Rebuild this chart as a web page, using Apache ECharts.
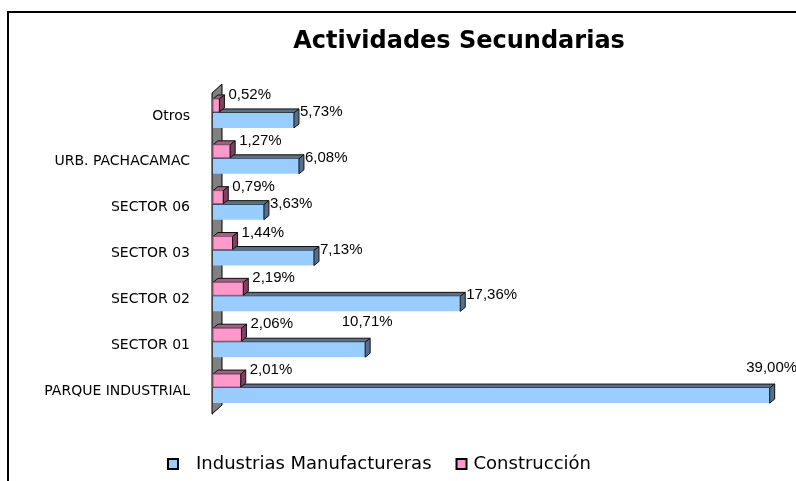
<!DOCTYPE html>
<html>
<head>
<meta charset="utf-8">
<script src="https://cdn.jsdelivr.net/npm/echarts@6/dist/echarts.min.js"></script>
<style>
  html, body { margin: 0; padding: 0; background: #fff; }
  .frame { position: relative; width: 796px; height: 481px; overflow: hidden; }
  .frame::before {
    content: ""; position: absolute; left: 7px; top: 11px; right: -10px; bottom: -10px;
    border-top: 2px solid #000; border-left: 2px solid #000;
  }
  #chart { position: absolute; left: 0; top: 0; width: 796px; height: 481px; }
</style>
</head>
<body>
<div class="frame"><div id="chart"></div></div>
<script>
  // bottom to top, as on the axis
  const categories = ["PARQUE INDUSTRIAL", "SECTOR 01", "SECTOR 02", "SECTOR 03", "SECTOR 06", "URB. PACHACAMAC", "Otros"];
  const manufactureras = [39.0, 10.71, 17.36, 7.13, 3.63, 6.08, 5.73];
  const construccion = [2.01, 2.06, 2.19, 1.44, 0.79, 1.27, 0.52];
  const seriesNames = ["Industrias Manufactureras", "Construcción"];

  // labels excel pushed above the bar end
  const blueLabelAbove = [true, true, false, false, false, false, false];

  const DX = 5, DY = -4;
  const fmt = (v) => v.toFixed(2).replace(".", ",") + "%";

  function bar3d(opt) {
    return function (params, api) {
      const val = api.value(0), cat = api.value(1);
      const p0 = api.coord([0, cat]);
      const p1 = api.coord([val, cat]);
      const c = p0[1];
      const x0 = p0[0] + 1, x1 = p1[0];
      const yt = c + opt.top, yb = c + opt.top + opt.h;
      const children = [];
      if (opt.wall && params.dataIndex === 0) {
        const cs = params.coordSys;
        const fx = cs.x, t = cs.y, b = cs.y + cs.height;
        children.push({
          type: "polygon",
          shape: { points: [[fx, t], [fx + 10, t - 9], [fx + 10, b - 9], [fx, b]] },
          style: { fill: "#808080", stroke: "#000", lineWidth: 1 },
        });
      }
      children.push({
        type: "polygon",
        shape: { points: [[x0, yt], [x1, yt], [x1 + DX, yt + DY], [x0 + DX, yt + DY]] },
        style: { fill: opt.topColor, stroke: "#111", lineWidth: 1 },
      });
      children.push({
        type: "rect",
        shape: { x: x0, y: yt, width: Math.max(x1 - x0, 0), height: opt.h },
        style: { fill: opt.color, stroke: opt.stroke, lineWidth: opt.stroke ? 1 : 0 },
      });
      children.push({
        type: "polygon",
        shape: { points: [[x1, yt], [x1, yb], [x1 + DX, yb + DY], [x1 + DX, yt + DY]] },
        style: { fill: opt.sideColor, stroke: "#111", lineWidth: 1 },
      });
      let lx, ly, align;
      if (opt.above && opt.above[params.dataIndex]) {
        lx = x1 + 2; ly = yt - 20; align = "center";
      } else {
        lx = x1 + opt.lx; ly = yt + opt.ly; align = "left";
      }
      children.push({
        type: "text",
        style: {
          x: lx, y: ly, text: fmt(val), align: align, verticalAlign: "middle",
          fill: "#000", fontSize: 15, fontFamily: "Liberation Sans, Arial, sans-serif",
        },
      });
      return { type: "group", children: children };
    };
  }

  const chart = echarts.init(document.getElementById("chart"));
  const option = {
    backgroundColor: "transparent",
    animation: false,
    title: {
      text: "Actividades Secundarias",
      left: 454,
      textAlign: "center",
      top: 25,
      textStyle: { fontFamily: "DejaVu Sans", fontWeight: "bold", fontSize: 24, color: "#000" },
    },
    legend: {
      left: 162,
      top: 450,
      itemWidth: 10,
      itemHeight: 10,
      itemGap: 24,
      icon: "rect",
      textStyle: { fontFamily: "DejaVu Sans", fontSize: 18, color: "#000" },
      data: [
        { name: seriesNames[0], textStyle: { padding: [0, 0, 0, 13] } },
        { name: seriesNames[1], textStyle: { padding: [0, 0, 0, 2] } },
      ],
    },
    grid: { left: 212, top: 93, width: 572, height: 321 },
    xAxis: { type: "value", min: 0, max: 40, show: false },
    yAxis: {
      type: "category",
      data: categories,
      axisLine: { lineStyle: { color: "#000", width: 1 } },
      axisTick: { length: 6, lineStyle: { color: "#000" } },
      axisLabel: { margin: 22, color: "#000", fontFamily: "DejaVu Sans", fontSize: 14 },
    },
    series: [
      {
        name: seriesNames[0],
        type: "custom",
        itemStyle: { color: "#99CCFF", borderColor: "#000", borderWidth: 1 },
        encode: { x: 0, y: 1 },
        data: manufactureras.map((v, i) => [v, i]),
        renderItem: bar3d({
          color: "#99CCFF", topColor: "#5d6f82", sideColor: "#56708c",
          top: -3, h: 15, lx: 6, ly: -1, above: blueLabelAbove, wall: true,
        }),
      },
      {
        name: seriesNames[1],
        type: "custom",
        itemStyle: { color: "#FF99CC", borderColor: "#000", borderWidth: 1 },
        encode: { x: 0, y: 1 },
        data: construccion.map((v, i) => [v, i]),
        renderItem: bar3d({
          color: "#FF99CC", topColor: "#a0607f", sideColor: "#80405f", stroke: "#8a5a76",
          top: -17, h: 13, lx: 9, ly: -4,
        }),
      },
    ],
  };
  chart.setOption(option);
</script>
</body>
</html>
